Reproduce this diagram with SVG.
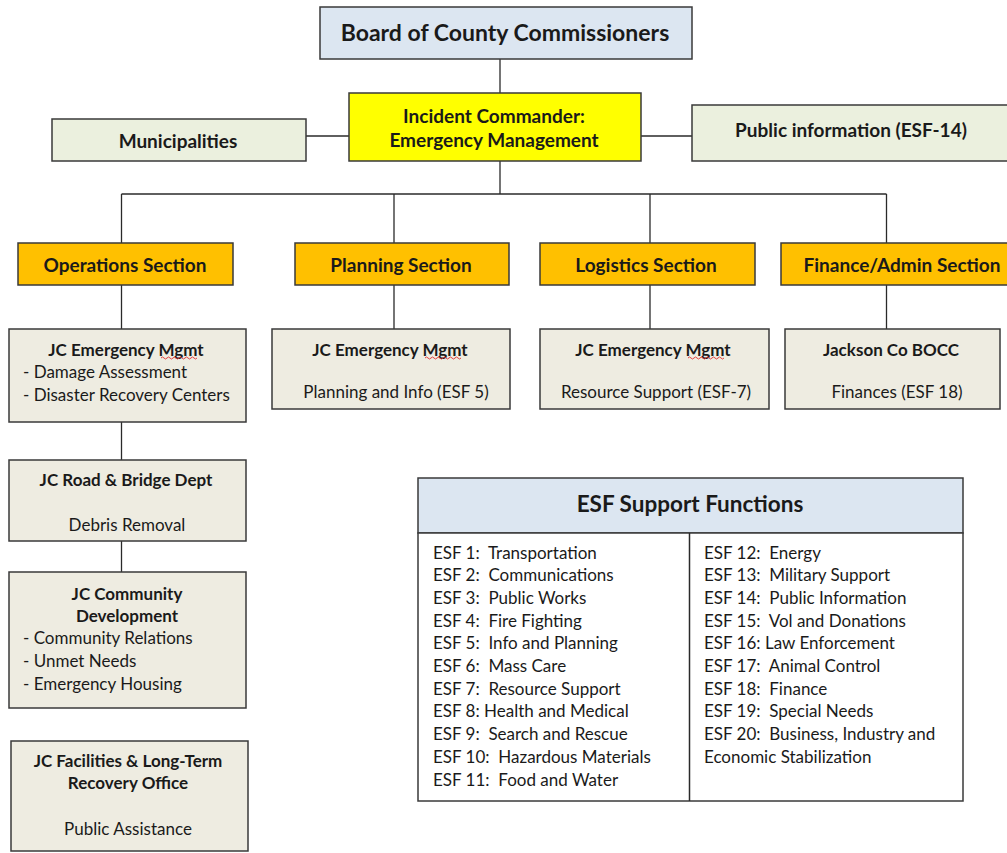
<svg xmlns="http://www.w3.org/2000/svg" width="1007" height="853" viewBox="0 0 1007 853">
<style>
text{font-family:Lato,"Open Sans","Liberation Sans",sans-serif;fill:#1a1a1a;dominant-baseline:central;white-space:pre}
.b{font-weight:bold}
.c{text-anchor:middle}
.box{stroke:#3a3a3a;stroke-width:1.5}
.tan{fill:#eeece1}
.grn{fill:#ebf0de}
.sec{fill:#ffc000}
.blu{fill:#dce6f1}
.t19{font-size:19px}
.t17{font-size:17px}
.sq{fill:none;stroke:#e03030;stroke-width:0.9}
#conn line{stroke:#2a2a2a;stroke-width:1.3}
</style>
<rect width="1007" height="853" fill="#ffffff"/>
<g id="conn">
<line x1="500" y1="59" x2="500" y2="93"/>
<line x1="306" y1="136" x2="349" y2="136"/>
<line x1="641" y1="136" x2="692" y2="136"/>
<line x1="500" y1="161" x2="500" y2="194"/>
<line x1="121.5" y1="194" x2="886.5" y2="194"/>
<line x1="121.5" y1="194" x2="121.5" y2="243"/>
<line x1="394" y1="194" x2="394" y2="243"/>
<line x1="650" y1="194" x2="650" y2="243"/>
<line x1="886.5" y1="194" x2="886.5" y2="243"/>
<line x1="121.5" y1="285" x2="121.5" y2="329"/>
<line x1="394" y1="285" x2="394" y2="329"/>
<line x1="650" y1="285" x2="650" y2="329"/>
<line x1="886.5" y1="285" x2="886.5" y2="329"/>
<line x1="121.5" y1="422" x2="121.5" y2="460"/>
<line x1="121.5" y1="541" x2="121.5" y2="572"/>
</g>
<g id="board">
<rect class="box blu" x="320" y="7" width="372" height="52"/>
<text class="b c" x="505" y="32" font-size="23">Board of County Commissioners</text>
</g>
<g id="incident">
<rect class="box" fill="#ffff00" x="349" y="93" width="292" height="68"/>
<text class="b c t19" x="494" y="115">Incident Commander:</text>
<text class="b c t19" x="494" y="139">Emergency Management</text>
</g>
<g id="municipalities">
<rect class="box grn" x="52" y="119" width="254" height="42"/>
<text class="b c t19" x="178" y="140">Municipalities</text>
</g>
<g id="publicinfo">
<rect class="box grn" x="692" y="105" width="320" height="56"/>
<text class="b c t19" x="851" y="129">Public information (ESF-14)</text>
</g>
<g id="operations">
<rect class="box sec" x="18" y="243" width="215" height="42"/>
<text class="b c t19" x="125" y="264">Operations Section</text>
</g>
<g id="planning">
<rect class="box sec" x="295" y="243" width="214" height="42"/>
<text class="b c t19" x="401" y="264">Planning Section</text>
</g>
<g id="logistics">
<rect class="box sec" x="540" y="243" width="215" height="42"/>
<text class="b c t19" x="646" y="264">Logistics Section</text>
</g>
<g id="finance">
<rect class="box sec" x="781" y="243" width="232" height="42"/>
<text class="b c t19" x="902" y="264">Finance/Admin Section</text>
</g>
<g id="ops-jc">
<rect class="box tan" x="9" y="329" width="237" height="93"/>
<text class="b c t17" x="126" y="349">JC Emergency Mgmt</text>
<path class="sq" d="M161 358 q1.5 -2 3 0 t3 0 t3 0 t3 0 t3 0 t3 0 t3 0 t3 0 t3 0 t3 0 t3 0 t3 0"/>
<text class="t17" x="23" y="371">- Damage Assessment</text>
<text class="t17" x="23" y="394">- Disaster Recovery Centers</text>
</g>
<g id="plan-jc">
<rect class="box tan" x="272" y="329" width="238" height="80"/>
<text class="b c t17" x="390" y="349">JC Emergency Mgmt</text>
<path class="sq" d="M425 358 q1.5 -2 3 0 t3 0 t3 0 t3 0 t3 0 t3 0 t3 0 t3 0 t3 0 t3 0 t3 0 t3 0"/>
<text class="c t17" x="396" y="391">Planning and Info (ESF 5)</text>
</g>
<g id="log-jc">
<rect class="box tan" x="540" y="329" width="229" height="80"/>
<text class="b c t17" x="653" y="349">JC Emergency Mgmt</text>
<path class="sq" d="M688 358 q1.5 -2 3 0 t3 0 t3 0 t3 0 t3 0 t3 0 t3 0 t3 0 t3 0 t3 0 t3 0 t3 0"/>
<text class="c t17" x="656" y="391">Resource Support (ESF-7)</text>
</g>
<g id="bocc">
<rect class="box tan" x="785" y="329" width="215" height="80"/>
<text class="b c t17" x="891" y="349">Jackson Co BOCC</text>
<text class="c t17" x="897" y="391">Finances (ESF 18)</text>
</g>
<g id="roadbridge">
<rect class="box tan" x="9" y="460" width="237" height="81"/>
<text class="b c t17" x="126" y="479">JC Road &amp; Bridge Dept</text>
<text class="c t17" x="127" y="524">Debris Removal</text>
</g>
<g id="community">
<rect class="box tan" x="9" y="572" width="237" height="136"/>
<text class="b c t17" x="127" y="593">JC Community</text>
<text class="b c t17" x="127" y="615">Development</text>
<text class="t17" x="23" y="637">- Community Relations</text>
<text class="t17" x="23" y="660">- Unmet Needs</text>
<text class="t17" x="23" y="683">- Emergency Housing</text>
</g>
<g id="facilities">
<rect class="box tan" x="11" y="741" width="237" height="110"/>
<text class="b c t17" x="128" y="760">JC Facilities &amp; Long-Term</text>
<text class="b c t17" x="128" y="782">Recovery Office</text>
<text class="c t17" x="128" y="828">Public Assistance</text>
</g>
<g id="esf">
<rect class="box blu" x="418" y="478" width="545" height="55"/>
<text class="b c" x="690" y="503" font-size="22.5">ESF Support Functions</text>
<rect class="box" fill="#ffffff" x="418" y="533" width="545" height="268"/>
<line x1="689.5" y1="533" x2="689.5" y2="801" stroke="#2a2a2a" stroke-width="1.5"/>
<g class="t17">
<text x="433" y="552">ESF 1:  Transportation</text>
<text x="433" y="574.7">ESF 2:  Communications</text>
<text x="433" y="597.4">ESF 3:  Public Works</text>
<text x="433" y="620.1">ESF 4:  Fire Fighting</text>
<text x="433" y="642.8">ESF 5:  Info and Planning</text>
<text x="433" y="665.5">ESF 6:  Mass Care</text>
<text x="433" y="688.2">ESF 7:  Resource Support</text>
<text x="433" y="710.9">ESF 8: Health and Medical</text>
<text x="433" y="733.6">ESF 9:  Search and Rescue</text>
<text x="433" y="756.3">ESF 10:  Hazardous Materials</text>
<text x="433" y="779">ESF 11:  Food and Water</text>
<text x="704" y="552">ESF 12:  Energy</text>
<text x="704" y="574.7">ESF 13:  Military Support</text>
<text x="704" y="597.4">ESF 14:  Public Information</text>
<text x="704" y="620.1">ESF 15:  Vol and Donations</text>
<text x="704" y="642.8">ESF 16: Law Enforcement</text>
<text x="704" y="665.5">ESF 17:  Animal Control</text>
<text x="704" y="688.2">ESF 18:  Finance</text>
<text x="704" y="710.9">ESF 19:  Special Needs</text>
<text x="704" y="733.6">ESF 20:  Business, Industry and</text>
<text x="704" y="756.3">Economic Stabilization</text>
</g>
</g>
</svg>
